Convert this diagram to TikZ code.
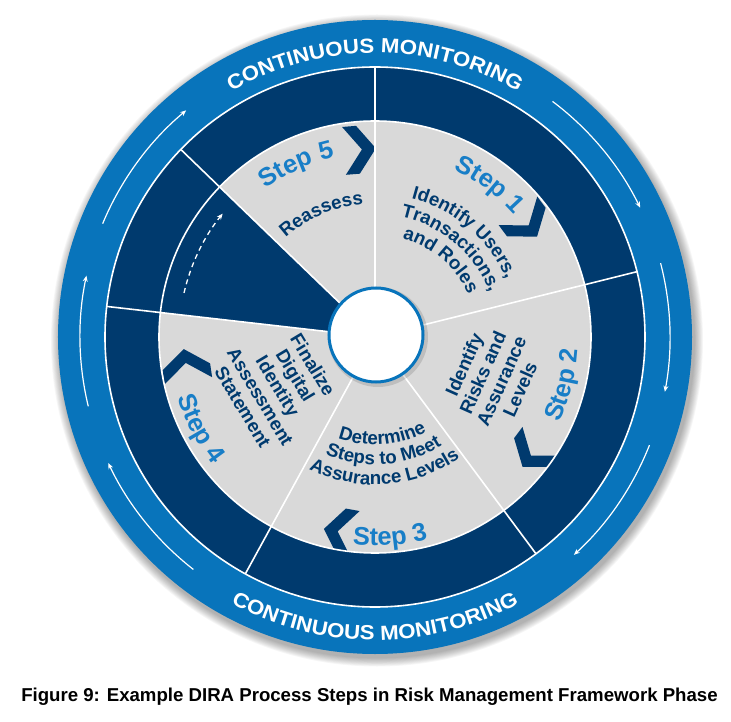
\documentclass[tikz,border=0pt]{standalone}
\usepackage{fontspec}
\setmainfont{Liberation Sans}
\usetikzlibrary{decorations.text,arrows.meta}

\definecolor{ringblue}{RGB}{8,116,187}
\definecolor{navy}{RGB}{0,58,110}
\definecolor{sector}{RGB}{217,217,217}
\definecolor{stepblue}{RGB}{24,126,199}

\newcommand\descfont{\bfseries\fontsize{18.8}{20.5}\selectfont}
\newcommand\stepfont{\bfseries\fontsize{25.5}{28}\selectfont}
\newcommand\ringfont{\bfseries\fontsize{20.5}{22}\selectfont\addfontfeature{FakeStretch=1.09}}

% text on a circular arc around the origin, read clockwise (tops outward)
\newcommand\cwtext[4]{%
  \path[decorate,decoration={text along path,text align=center,text color=#3,text={#4}}]
    ({#1+70}:#2) arc[start angle={#1+70},end angle={#1-70},radius=#2];}
% text on a circular arc around the origin, read counter-clockwise (tops inward)
\newcommand\ccwtext[4]{%
  \path[decorate,decoration={text along path,text align=center,text color=#3,text={#4}}]
    ({#1-70}:#2) arc[start angle={#1-70},end angle={#1+70},radius=#2];}
% chevron pointing clockwise, centred at polar position (angle, radius)
\newcommand\chevron[2]{%
  \fill[navy,shift={(#1:#2)},rotate={#1-90}]
    (-16,24) -- (-2,24) -- (16,0) -- (-2,-24) -- (-16,-24) -- (2,0) -- cycle;}

\begin{document}
\begin{tikzpicture}[x=1bp,y=1bp,
  sepline/.style={white,line width=1.6bp},
  flowarrow/.style={white,line width=1.2bp,-{Stealth[length=6bp,width=5bp]}},
  desc/.style={font=\descfont,text=navy,inner sep=0pt,align=center},
]
\useasboundingbox (-375,-385) rectangle (356,337);

% soft shadow of the disc
\foreach \k in {1,...,10}
  \fill[black,opacity=0.035] (2,-3.5) circle ({317+\k*0.9});

% rings
\fill[ringblue] (0,0) circle (317);
\fill[navy] (0,0) circle (270);

% grey step sectors
\fill[sector] (0,0) -- (-118.7:216) arc[start angle=-118.7,end angle=136,radius=216] -- cycle;
\fill[sector] (0,0) -- (173.5:216) arc[start angle=173.5,end angle=241.3,radius=216] -- cycle;

% chevrons
\chevron{36.6}{190}
\chevron{-36.7}{196}
\chevron{-100.3}{198}
\chevron{188.4}{191}
\chevron{94.6}{188}

% separators
\draw[sepline] (0,0) circle (270);
\draw[sepline] (0,0) circle (216);
\foreach \a in {14,90,-53.4,-118.7,173.5,136}
  \draw[sepline] (\a:45) -- (\a:270);

% hub
\fill[black,opacity=0.12] (3,0) circle (50);
\draw[ringblue,line width=3bp,fill=white] (1,2) circle (47);

% flow arrows in the outer ring
\draw[flowarrow] (53:295) arc[start angle=53,end angle=26,radius=295];
\draw[flowarrow] (14.5:295) arc[start angle=14.5,end angle=-10.7,radius=295];
\draw[flowarrow] (-21.5:295) arc[start angle=-21.5,end angle=-47.6,radius=295];
\draw[flowarrow] (-128:295) arc[start angle=-128,end angle=-154.7,radius=295];
\draw[flowarrow] (193.6:295) arc[start angle=193.6,end angle=168,radius=295];
\draw[flowarrow] (157.4:295) arc[start angle=157.4,end angle=129.8,radius=295];

% dashed return arrow
\draw[white,line width=1.3bp,dash pattern=on 5bp off 4bp,-{Stealth[length=6bp,width=5bp]}]
  (167:196) arc[start angle=167,end angle=141,radius=196];

% ring captions
\cwtext{90}{284}{white}{|\ringfont|CONTINUOUS MONITORING}
\ccwtext{-90}{303}{white}{|\ringfont|CONTINUOUS MONITORING}

% step 1
\cwtext{53}{185}{stepblue}{|\stepfont|Step 1}
\cwtext{49.5}{143.4}{navy}{|\descfont|Identify Users,}
\cwtext{49.5}{123}{navy}{|\descfont|Transactions,}
\cwtext{49.5}{102.5}{navy}{|\descfont|and Roles}

% step 2
\ccwtext{-14.2}{203}{stepblue}{|\stepfont|Step 2}
\node[desc,rotate=66] (s2text) at (117,-40) {Identify\\Risks and\\Assurance\\Levels};

% step 3
\ccwtext{-85.7}{208.7}{stepblue}{|\stepfont|Step 3}
\ccwtext{-85.7}{107.7}{navy}{|\descfont|Determine}
\ccwtext{-85.7}{127.7}{navy}{|\descfont|Steps to Meet}
\ccwtext{-85.7}{147.7}{navy}{|\descfont|Assurance Levels}

% step 4
\ccwtext{207.6}{206}{stepblue}{|\stepfont|Step 4}
\node[desc,rotate=-59] (s4text) at (-97,-49) {Finalize\\Digital\\Identity\\Assessment\\Statement};

% step 5
\cwtext{114.5}{184}{stepblue}{|\stepfont|Step 5}
\cwtext{113.5}{133.4}{navy}{|\descfont|Reassess}

% figure caption
\node[font=\bfseries\fontsize{18.7}{20}\selectfont,inner sep=0pt] (caption) at (-5.5,-360)
  {Figure 9: Example DIRA Process Steps in Risk Management Framework Phase};
\end{tikzpicture}
\end{document}
